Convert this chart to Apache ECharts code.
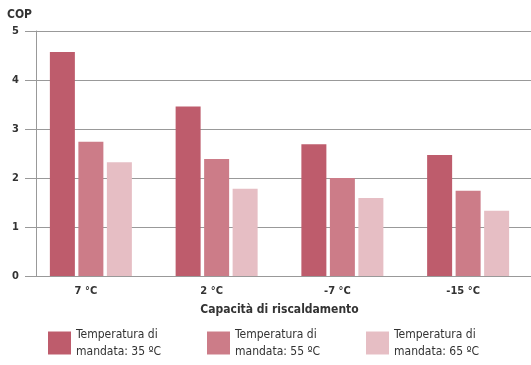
<!DOCTYPE html>
<html><head><meta charset="utf-8">
<script src="https://cdn.jsdelivr.net/npm/echarts@6/dist/echarts.min.js"></script>
<style>html,body{margin:0;padding:0;background:#fff}#c{width:531px;height:365px}</style>
</head><body><div id="c"></div>
<script>
const categories = ['7 °C', '2 °C', '-7 °C', '-15 °C'];
const seriesNames = ['Temperatura di\nmandata: 35 ºC', 'Temperatura di\nmandata: 55 ºC', 'Temperatura di\nmandata: 65 ºC'];
const t35 = [4.57, 3.46, 2.69, 2.47];
const t55 = [2.74, 2.39, 2.00, 1.74];
const t65 = [2.32, 1.78, 1.59, 1.33];
const yTicks = [0, 1, 2, 3, 4, 5];
const colors = ['#be5c6c', '#cc7c88', '#e6bec4'];
const FONT = '"Liberation Sans Narrow", "DejaVu Sans Condensed", "Roboto", sans-serif';

const chart = echarts.init(document.getElementById('c'), null, {renderer: 'canvas'});
const data = [t35, t55, t65];
chart.setOption({
  animation: false,
  textStyle: {fontFamily: FONT},
  title: {text: 'COP', left: 2, top: 4, textStyle: {fontFamily: FONT, fontSize: 12, fontWeight: 'bold', color: '#333'}},
  grid: {left: 28, right: 0, top: 31, bottom: 89},
  legend: {
    left: 43, top: 320, itemWidth: 23, itemHeight: 23, itemGap: 41,
    icon: 'rect',
    data: seriesNames,
    textStyle: {fontFamily: FONT, fontSize: 12, color: '#333', lineHeight: 17, width: 90, padding: [2, 0, 0, 0]}
  },
  xAxis: {
    type: 'category', data: categories,
    axisLine: {lineStyle: {color: '#999', width: 1}},
    axisTick: {show: false},
    axisLabel: {color: '#333', fontSize: 11, fontWeight: 'bold', fontFamily: FONT, margin: 10, padding: [0, 10, 0, 0]},
    name: 'Capacità di riscaldamento', nameLocation: 'middle', nameGap: 28,
    nameTextStyle: {color: '#333', fontSize: 12, fontWeight: 'bold', fontFamily: FONT}
  },
  yAxis: {
    type: 'value', min: yTicks[0], max: yTicks[yTicks.length - 1], interval: 1,
    offset: -8,
    axisLine: {show: true, lineStyle: {color: '#999'}},
    axisTick: {show: true, length: 11, lineStyle: {color: '#999'}},
    axisLabel: {color: '#333', fontSize: 11, fontWeight: 'bold', fontFamily: FONT, margin: 17},
    splitLine: {lineStyle: {color: '#999', width: 1}}
  },
  series: data.map((d, i) => ({
    name: seriesNames[i], type: 'bar', data: d, barWidth: 25, barGap: '14%',
    itemStyle: {color: colors[i]}
  }))
});
</script></body></html>
